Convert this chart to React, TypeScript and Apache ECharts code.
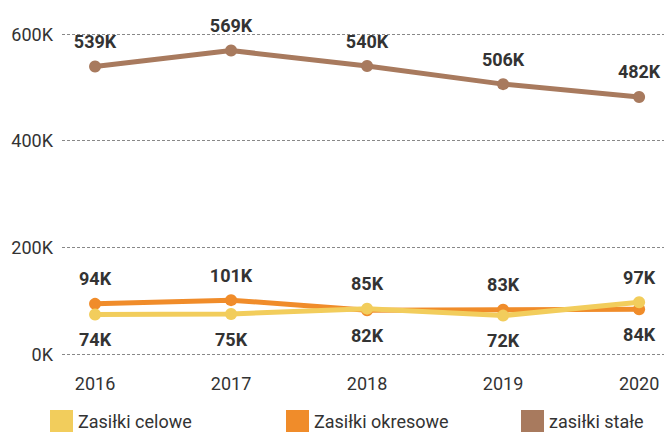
import React, { useEffect, useRef } from "react";
import * as echarts from "echarts";

const years = [2016, 2017, 2018, 2019, 2020];
const yTicks = [0, 200000, 400000, 600000];
const seriesNames = ["Zasiłki celowe", "Zasiłki okresowe", "zasiłki stałe"];
const celowe = [74000, 75000, 85000, 72000, 97000];
const okresowe = [94000, 101000, 82000, 83000, 84000];
const stale = [539000, 569000, 540000, 506000, 482000];
const celoweLabelPos = ["bottom", "bottom", "top", "bottom", "top"];
const okresoweLabelPos = ["top", "top", "bottom", "top", "bottom"];
const staleLabelPos = ["top", "top", "top", "top", "top"];
const colors = ["#f2cd5c", "#f08c2a", "#a87a5e"];

const FONT = "Roboto, 'Noto Sans', sans-serif";

function makeData(vals: number[], pos: string[]) {
  return vals.map((v, i) => ({
    value: [years[i], v],
    label: { position: pos[i] },
  }));
}

export default function App() {
  const ref = useRef<HTMLDivElement>(null);
  useEffect(() => {
    if (!ref.current) return;
    const chart = echarts.init(ref.current, null, { renderer: "svg" });
    const seriesData = [
      makeData(celowe, celoweLabelPos),
      makeData(okresowe, okresoweLabelPos),
      makeData(stale, staleLabelPos),
    ];
    const legendLefts = [50, 286, 521];
    chart.setOption({
      animation: false,
      textStyle: { fontFamily: FONT },
      grid: { left: 62, right: 0, top: 34, bottom: 82 },
      legend: seriesNames.map((n, i) => ({
        data: [n],
        left: legendLefts[i],
        top: 410,
        padding: 0,
        itemWidth: 23,
        itemHeight: 22,
        itemGap: 10,
        icon: "rect",
        textStyle: { fontSize: 18, color: "#333", fontFamily: FONT },
      })),
      xAxis: {
        type: "value",
        min: 2015.757,
        max: 2020.183,
        axisLine: { show: false },
        axisTick: { show: false },
        splitLine: { show: false },
        axisLabel: {
          customValues: years,
          fontSize: 18,
          color: "#333",
          margin: 20,
          fontFamily: FONT,
          formatter: (v: number) => String(Math.round(v)),
        },
      },
      yAxis: {
        type: "value",
        min: yTicks[0],
        max: yTicks[yTicks.length - 1],
        interval: 200000,
        axisLine: { show: false },
        axisTick: { show: false },
        splitLine: {
          show: true,
          lineStyle: { type: [3, 2], color: "#888", width: 1.2 },
        },
        axisLabel: {
          fontSize: 18,
          color: "#333",
          margin: 9,
          fontFamily: FONT,
          formatter: (v: number) => v / 1000 + "K",
        },
      },
      series: seriesNames.map((n, i) => ({
        name: n,
        type: "line",
        data: seriesData[i],
        color: colors[i],
        lineStyle: { width: 5 },
        symbol: "circle",
        symbolSize: 12,
        z: i === 0 ? 3 : 2,
        label: {
          show: true,
          fontSize: 18,
          fontWeight: "bold",
          color: "#333",
          distance: 10,
          fontFamily: FONT,
          formatter: (p: any) => Math.round(p.value[1] / 1000) + "K",
        },
      })),
    });
    return () => chart.dispose();
  }, []);
  return (
    <div
      ref={ref}
      style={{ width: 664, height: 436, position: "absolute", left: 0, top: 0 }}
    />
  );
}
